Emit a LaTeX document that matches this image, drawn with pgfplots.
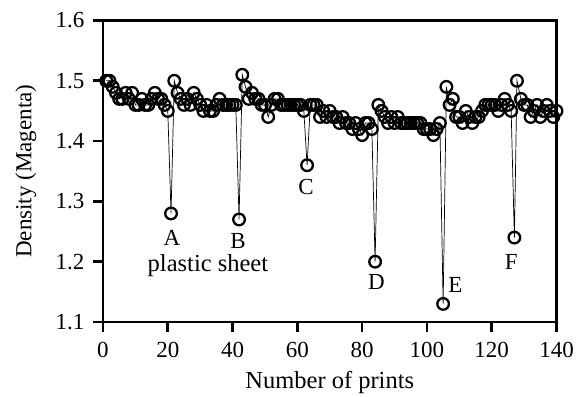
\documentclass[border=0pt]{standalone}
\usepackage{pgfplots}
\pgfplotsset{compat=1.18}
\usepackage{fontspec}
\setmainfont{Liberation Serif}
\begin{document}
\begin{tikzpicture}[font=\fontsize{23}{27}\selectfont]
\begin{axis}[
  scale only axis,
  width=453.5pt, height=301.5pt,
  xmin=0, xmax=140, ymin=1.1, ymax=1.6,
  xtick={0,20,...,140},
  ytick={1.1,1.2,...,1.6},
  yticklabel style={/pgf/number format/fixed,/pgf/number format/precision=1,/pgf/number format/fixed zerofill},
  /pgf/number format/assume math mode=true,
  tick label style={font=\fontsize{23}{27}\selectfont},
  label style={font=\fontsize{23}{27}\selectfont},
  x tick label style={yshift=-7pt},
  y tick label style={xshift=-5pt},
  tick align=outside, tick pos=left,
  major tick length=10pt,
  every tick/.style={black, line width=2.6pt},
  axis line style={line width=2.8pt},
  xlabel={Number of prints},
  ylabel={Density (Magenta)},
  x label style={at={(axis description cs:0.5,-0.2)}, anchor=center, font=\fontsize{24.5}{28}\selectfont},
  y label style={at={(axis description cs:-0.17,0.5)}, anchor=center},
  clip=false,
]
\addplot[black, line width=0.7pt, mark=o, mark size=5.8pt, mark options={line width=2.3pt, fill=white}] coordinates {
(1,1.50)(2,1.50)(3,1.49)(4,1.48)(5,1.47)(6,1.47)(7,1.48)(8,1.47)(9,1.48)(10,1.46)
(11,1.46)(12,1.47)(13,1.46)(14,1.46)(15,1.47)(16,1.48)(17,1.47)(18,1.47)(19,1.46)(20,1.45)
(21,1.28)(22,1.50)(23,1.48)(24,1.47)(25,1.46)(26,1.47)(27,1.46)(28,1.48)(29,1.47)(30,1.46)
(31,1.45)(32,1.46)(33,1.45)(34,1.45)(35,1.46)(36,1.47)(37,1.46)(38,1.46)(39,1.46)(40,1.46)
(41,1.46)(42,1.27)(43,1.51)(44,1.49)(45,1.47)(46,1.48)(47,1.47)(48,1.47)(49,1.46)(50,1.46)
(51,1.44)(52,1.46)(53,1.47)(54,1.47)(55,1.46)(56,1.46)(57,1.46)(58,1.46)(59,1.46)(60,1.46)
(61,1.46)(62,1.45)(63,1.36)(64,1.46)(65,1.46)(66,1.46)(67,1.44)(68,1.45)(69,1.44)(70,1.45)
(71,1.44)(72,1.44)(73,1.43)(74,1.44)(75,1.43)(76,1.43)(77,1.42)(78,1.43)(79,1.42)(80,1.41)
(81,1.43)(82,1.43)(83,1.42)(84,1.20)(85,1.46)(86,1.45)(87,1.44)(88,1.43)(89,1.44)(90,1.43)
(91,1.44)(92,1.43)(93,1.43)(94,1.43)(95,1.43)(96,1.43)(97,1.43)(98,1.43)(99,1.42)(100,1.42)
(101,1.42)(102,1.41)(103,1.42)(104,1.43)(105,1.13)(106,1.49)(107,1.46)(108,1.47)(109,1.44)(110,1.44)
(111,1.43)(112,1.45)(113,1.44)(114,1.43)(115,1.44)(116,1.44)(117,1.45)(118,1.46)(119,1.46)(120,1.46)
(121,1.46)(122,1.45)(123,1.46)(124,1.47)(125,1.46)(126,1.45)(127,1.24)(127.8,1.50)(129,1.47)(130,1.46)
(131,1.46)(132,1.44)(133,1.45)(134,1.46)(135,1.44)(136,1.45)(137,1.46)(138,1.45)(139,1.44)(140,1.45)
};
\begin{scope}[every node/.style={inner sep=0pt}]
\node at (axis cs:21.3,1.239) {A};
\node at (axis cs:41.7,1.234) {B};
\node at (axis cs:62.7,1.3235) {C};
\node at (axis cs:84.4,1.166) {D};
\node at (axis cs:108.8,1.161) {E};
\node at (axis cs:126,1.199) {F};
\node[font=\fontsize{24.5}{28}\selectfont] at (axis cs:32.4,1.193) {plastic sheet};
\end{scope}
\end{axis}
\pgfresetboundingbox
\path (-103pt,-74pt) rectangle (477pt,322pt);
\end{tikzpicture}
\end{document}
